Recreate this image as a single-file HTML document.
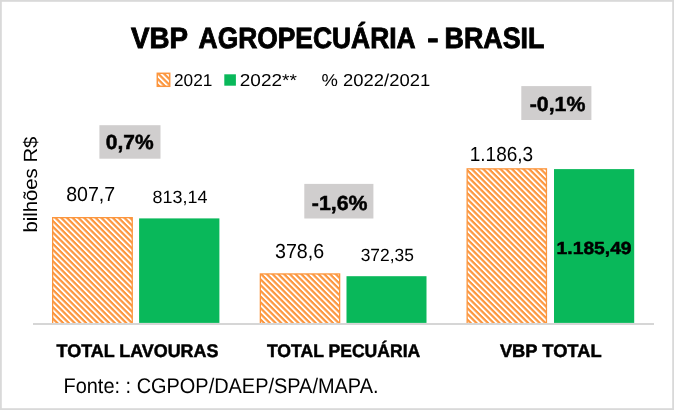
<!DOCTYPE html>
<html><head><meta charset="utf-8"><title>VBP AGROPECUÁRIA - BRASIL</title>
<style>
html,body{margin:0;padding:0;background:#fff;}
body{width:674px;height:410px;overflow:hidden;}
svg{display:block;will-change:transform;text-rendering:geometricPrecision;font-family:"Liberation Sans",sans-serif;fill:#000;}
.b{font-weight:bold;}
text.b{stroke:#000;stroke-width:0.5px;}
</style></head><body>
<svg width="674" height="410" viewBox="0 0 674 410">
<defs>
<pattern id="h" width="4.06" height="4.06" patternUnits="userSpaceOnUse" patternTransform="rotate(45)">
<rect width="4.06" height="4.06" fill="#fff"/>
<rect width="4.06" height="2.2" fill="#fc963e"/>
</pattern>
</defs>
<rect x="0" y="0" width="674" height="410" fill="#fff"/>
<rect x="0.9" y="0.9" width="672.2" height="408.2" fill="none" stroke="#d9d9d9" stroke-width="1.8"/>

<g class="b" font-size="29.3" stroke="#000" stroke-width="0.9" stroke-linejoin="miter">
<text x="131" y="47.5" textLength="57" lengthAdjust="spacingAndGlyphs">VBP</text>
<text x="198.6" y="47.5" textLength="217" lengthAdjust="spacingAndGlyphs">AGROPECUÁRIA</text>
<text x="427.2" y="47.5" textLength="11.4" lengthAdjust="spacingAndGlyphs">-</text>
<text x="444.6" y="47.5" textLength="99.8" lengthAdjust="spacingAndGlyphs">BRASIL</text>
</g>

<!-- legend -->
<rect x="157.3" y="73.3" width="12.4" height="13" fill="url(#h)" stroke="#fc963e" stroke-width="1.5"/>
<text x="174" y="85.6" font-size="17.2" textLength="38.4" lengthAdjust="spacingAndGlyphs">2021</text>
<rect x="224.3" y="74.3" width="11.6" height="11.4" fill="#09b85a"/>
<text x="239.8" y="85.6" font-size="17.2" textLength="57" lengthAdjust="spacingAndGlyphs">2022**</text>
<text x="321.6" y="85.6" font-size="17.2" textLength="108.6" lengthAdjust="spacingAndGlyphs">% 2022/2021</text>

<!-- y label -->
<text transform="translate(36.5,232.6) rotate(-90)" font-size="19.1" textLength="96" lengthAdjust="spacingAndGlyphs">bilhões R$</text>


<!-- bars -->
<rect x="52.65" y="217.65" width="79.6" height="106" fill="url(#h)" stroke="#fc963e" stroke-width="1.3"/>
<rect x="139.1" y="218.4" width="80.3" height="104.5" fill="#09b85a"/>
<rect x="260.35" y="273.95" width="79.3" height="49.7" fill="url(#h)" stroke="#fc963e" stroke-width="1.3"/>
<rect x="346.5" y="276.2" width="80" height="46.7" fill="#09b85a"/>
<rect x="467.15" y="168.85" width="79.3" height="154.8" fill="url(#h)" stroke="#fc963e" stroke-width="1.3"/>
<rect x="554" y="169.1" width="80.2" height="153.8" fill="#09b85a"/>

<!-- axis -->
<rect x="33" y="323" width="621" height="2" fill="#d6d6d6"/>

<!-- badges -->
<rect x="99.4" y="125.2" width="61.1" height="33.5" fill="#d0cece"/>
<text class="b" x="105.8" y="149.3" font-size="20.4" textLength="47.8" lengthAdjust="spacingAndGlyphs">0,7%</text>
<rect x="304.3" y="183.9" width="69.1" height="34.6" fill="#d0cece"/>
<text class="b" x="311.8" y="209.9" font-size="20.4" textLength="55.7" lengthAdjust="spacingAndGlyphs">-1,6%</text>
<rect x="521.3" y="86.1" width="70.1" height="33.9" fill="#d0cece"/>
<text class="b" x="529.7" y="110.8" font-size="20.4" textLength="55.7" lengthAdjust="spacingAndGlyphs">-0,1%</text>

<!-- values -->
<text x="66.2" y="201.4" font-size="20.3" textLength="49" lengthAdjust="spacingAndGlyphs">807,7</text>
<text x="152.6" y="203" font-size="17.7" textLength="54.9" lengthAdjust="spacingAndGlyphs">813,14</text>
<text x="275" y="257.5" font-size="20.3" textLength="49.2" lengthAdjust="spacingAndGlyphs">378,6</text>
<text x="360.7" y="261" font-size="17.7" textLength="53.2" lengthAdjust="spacingAndGlyphs">372,35</text>
<text x="469.7" y="160.9" font-size="20.3" textLength="63.5" lengthAdjust="spacingAndGlyphs">1.186,3</text>
<text class="b" x="556.6" y="254" font-size="17.5" textLength="75" lengthAdjust="spacingAndGlyphs">1.185,49</text>

<!-- categories -->
<text class="b" x="56.6" y="356.8" font-size="18.3" textLength="161.8" lengthAdjust="spacingAndGlyphs">TOTAL LAVOURAS</text>
<text class="b" x="266.9" y="356.8" font-size="18.3" textLength="153.4" lengthAdjust="spacingAndGlyphs">TOTAL PECUÁRIA</text>
<text class="b" x="499.9" y="356.9" font-size="18.3" textLength="101.7" lengthAdjust="spacingAndGlyphs">VBP TOTAL</text>

<text x="63.5" y="392.6" font-size="21.2" textLength="315" lengthAdjust="spacingAndGlyphs">Fonte: : CGPOP/DAEP/SPA/MAPA.</text>
</svg>
</body></html>
